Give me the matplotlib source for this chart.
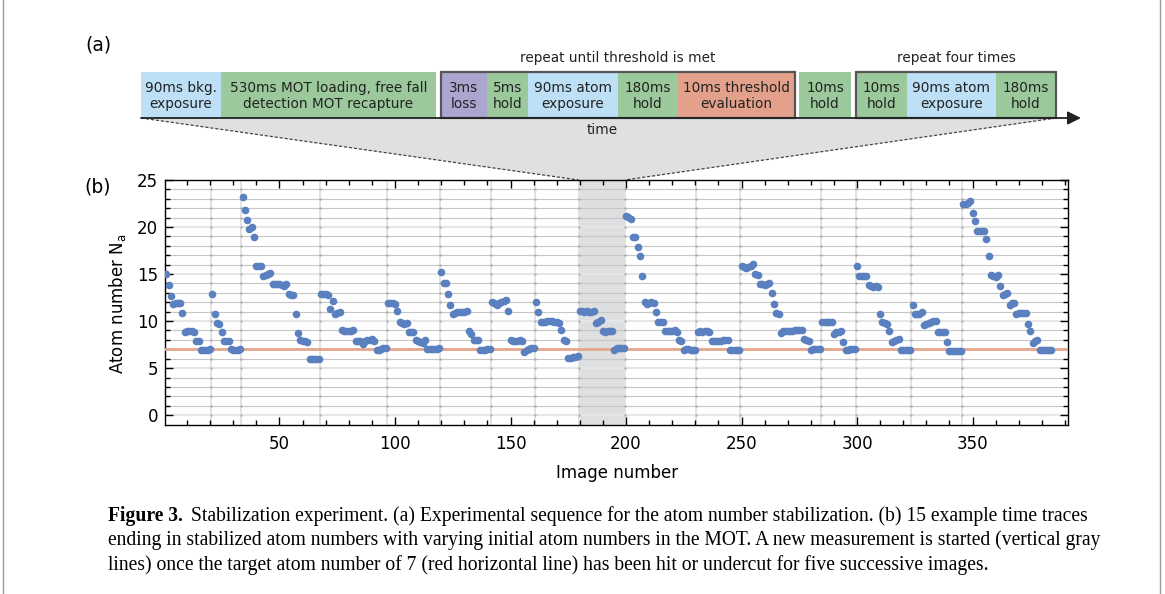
import matplotlib
matplotlib.use('Agg')
import matplotlib.pyplot as plt
import numpy as np
from matplotlib.patches import Rectangle, Polygon

plt.rcParams['font.family'] = ['DejaVu Sans']
plt.rcParams['mathtext.default'] = 'regular'

# ---------------- data: atom number per image, one list per time trace ----------------
trace01 = [15.0, 13.8, 12.7, 11.8, 11.9, 11.9, 11.9, 10.9, 8.8, 8.9, 8.9, 8.9, 8.8, 7.9, 7.9,
           6.9, 6.9, 6.9, 6.9, 7.0]
trace02 = [12.9, 10.8, 9.8, 9.7, 8.8, 7.9, 7.9, 7.9, 7.0, 6.95, 6.95, 6.95, 7.0]
trace03 = [23.2, 21.8, 20.8, 19.8, 20.0, 18.9, 15.9, 15.9, 15.9, 14.8, 14.9, 15.0, 15.1,
           13.9, 13.9, 13.9, 13.9, 13.8, 13.7, 13.95, 12.9, 12.8, 12.8, 10.8, 8.7,
           7.95, 7.9, 7.85, 7.8, 6.0, 6.0, 6.0, 6.0, 6.0]
trace04 = [12.9, 12.9, 12.85, 12.8, 11.3, 12.1, 10.8, 10.9, 11.0, 9.0, 8.9, 8.9, 8.9, 8.95, 9.1,
           7.9, 7.9, 7.9, 7.6, 7.9, 8.0, 8.0, 8.1, 7.9, 6.9, 6.95, 7.0, 7.1, 7.15]
trace05 = [11.9, 11.9, 11.95, 11.85, 11.05, 9.9, 9.8, 9.7, 9.8, 8.8, 8.8, 8.85,
           8.0, 7.9, 7.8, 7.7, 8.0, 7.05, 7.0, 7.0, 7.0, 7.05, 7.1]
trace06 = [15.25, 14.1, 14.05, 12.9, 11.75, 10.8, 10.9, 10.95, 11.0, 11.0, 11.0, 11.05,
           8.9, 8.6, 8.0, 8.0, 8.0, 6.95, 6.95, 6.95, 7.0, 7.0]
trace07 = [12.0, 11.9, 11.75, 11.9, 12.0, 12.1, 12.2, 11.05, 7.95, 7.9, 7.9, 7.9, 7.95, 7.87,
           6.7, 6.9, 7.05, 7.1, 7.1]
trace08 = [12.0, 10.95, 9.9, 9.95, 9.95, 10.0, 10.05, 10.0, 9.95, 9.85, 9.8, 9.0, 7.95, 7.9,
           6.05, 6.1, 6.15, 6.2, 6.25]
trace09 = [11.05, 11.05, 11.0, 11.05, 10.98, 10.95, 11.05, 9.8, 9.9, 10.1, 8.9, 8.85, 8.9,
           8.95, 8.95, 6.9, 7.1, 7.15, 7.1, 7.1]
trace10 = [21.2, 21.1, 20.9, 18.9, 18.9, 17.9, 16.9, 14.8, 12.0, 11.8, 11.9, 12.05, 11.9, 11.0,
           9.9, 9.95, 9.9, 8.9, 8.9, 8.95, 8.95, 9.0, 8.8, 8.0, 7.85,
           6.95, 7.0, 7.0, 6.95, 6.95, 6.95]
trace11 = [8.8, 8.9, 8.85, 8.95, 8.9, 8.8, 7.9, 7.85, 7.9, 7.9, 7.9, 7.95, 8.0, 8.0,
           6.9, 6.9, 6.95, 6.95, 6.95]
trace12 = [15.9, 15.75, 15.6, 15.75, 15.9, 16.05, 15.0, 14.95, 13.95, 13.9, 13.8, 13.9, 14.0,
           13.0, 11.85, 10.85, 10.8, 8.75, 8.9, 8.9, 8.9, 8.95, 8.95, 9.0, 9.0, 9.05, 9.05,
           8.05, 7.95, 7.9, 6.95, 7.0, 7.0, 7.0, 7.0]
trace13 = [9.9, 9.95, 9.95, 9.9, 9.85, 8.65, 8.8, 8.85, 8.9, 7.8, 6.95, 6.95, 7.0, 7.0, 7.05]
trace14 = [15.9, 14.8, 14.75, 14.75, 14.8, 13.85, 13.7, 13.6, 13.7, 13.65, 10.7, 9.9, 9.75,
           9.65, 8.9, 7.8, 7.9, 8.0, 8.05, 6.95, 6.95, 6.95, 6.95, 6.95]
trace15 = [11.75, 10.75, 10.75, 10.8, 11.0, 9.6, 9.7, 9.8, 9.9, 10.0, 10.05, 8.8, 8.85, 8.85,
           8.8, 7.8, 6.85, 6.85, 6.85, 6.85, 6.85, 6.85]
trace16 = [22.5, 22.4, 22.6, 22.8, 21.5, 20.6, 19.6, 19.6, 19.6, 19.6, 18.75, 16.9,
           14.9, 14.75, 14.7, 14.9, 13.7, 12.8, 12.9, 13.0, 11.75, 11.9, 11.95,
           10.8, 10.9, 10.9, 10.9, 10.9, 9.65, 8.95, 7.7, 7.85, 7.95,
           6.9, 6.9, 6.9, 6.9, 6.9, 6.9]
traces = [trace01, trace02, trace03, trace04, trace05, trace06, trace07, trace08,
          trace09, trace10, trace11, trace12, trace13, trace14, trace15, trace16]
highlighted_trace = 8          # index of the trace shown in gray (sequence zoom)
target_atom_number = 7

x_ticks = [50, 100, 150, 200, 250, 300, 350]
y_ticks = [0, 5, 10, 15, 20, 25]

# sequence diagram content
seq_labels = ["90ms bkg.\nexposure", "530ms MOT loading, free fall\ndetection MOT recapture",
              "3ms\nloss", "5ms\nhold", "90ms atom\nexposure", "180ms\nhold",
              "10ms threshold\nevaluation", "10ms\nhold",
              "10ms\nhold", "90ms atom\nexposure", "180ms\nhold"]
seq_kinds = ["exp", "hold", "loss", "hold", "exp", "hold", "eval", "hold", "hold", "exp", "hold"]
group_titles = ["repeat until threshold is met", "repeat four times"]

caption_bold = "Figure 3."
caption_lines = ["Stabilization experiment. (a) Experimental sequence for the atom number stabilization. (b) 15 example time traces",
                 "ending in stabilized atom numbers with varying initial atom numbers in the MOT. A new measurement is started (vertical gray",
                 "lines) once the target atom number of 7 (red horizontal line) has been hit or undercut for five successive images."]

# ---------------- layout / style ----------------
W, H = 1165, 594
kind_colors = {"exp": "#bee0f6", "hold": "#9bc99c", "loss": "#aaa6d0", "eval": "#e3a18b"}
box_edges = [[141, 221, 436], [441, 487, 528, 618, 678, 795], [799, 851], [856, 907, 996, 1056]]
box_top, box_bot = 72, 118
outlined_groups = [1, 3]
marker_color = "#5a80bf"
box_fs = 9.8

fig = plt.figure(figsize=(W / 100, H / 100), dpi=100)
ax0 = fig.add_axes([0, 0, 1, 1])
ax0.set_xlim(0, W)
ax0.set_ylim(H, 0)
ax0.axis('off')

ax = fig.add_axes([165 / W, 1 - 425 / H, 903 / W, 245 / H])

# ---- plot panel (b)
starts = np.cumsum([1] + [len(t) for t in traces[:-1]])
for s, t in zip(starts, traces):
    xs = np.arange(s, s + len(t))
    ax.plot(xs, t, 'o', ms=5.5, color=marker_color, mec='none', zorder=5)

x0 = starts[highlighted_trace] - 0.5
x1 = starts[highlighted_trace] + len(traces[highlighted_trace]) - 0.5
ax.axvspan(x0, x1, color='#dedfe0', zorder=0.5, lw=0)
grid_levels = np.arange(0, 25)
for s in starts[1:]:
    ax.axvline(s - 0.5, color='#e2e2e2', lw=1.4, zorder=1)
    ax.plot(np.full(len(grid_levels), s - 0.5), grid_levels, ls='none', marker='s', ms=1.6,
            mec='none', color='#a8a8a8', zorder=2)
for v in grid_levels:
    if v % 5 == 0:
        ax.axhline(v, color='#e6e6e6', lw=1.5, zorder=1.5)
    else:
        ax.axhline(v, color='#c6c6c6', lw=0.8, zorder=1.5)
ax.axhline(target_atom_number, color='#e6a68c', lw=2.0, zorder=3)

ax.set_xlim(0.45, 391.3)
ax.set_ylim(-1.05, 25)
ax.set_xticks(x_ticks)
ax.set_xticks(np.arange(10, 391, 10), minor=True)
ax.set_yticks(y_ticks)
ax.set_yticks(np.arange(0, 25, 1), minor=True)
ax.tick_params(which='both', direction='in', top=True, right=True, width=1, labelsize=12)
ax.tick_params(which='major', length=6)
ax.tick_params(which='minor', length=3.5)
ax.tick_params(axis='x', pad=7)
ax.tick_params(axis='y', pad=5)
for sp in ax.spines.values():
    sp.set_linewidth(1.0)

ax0.text(617, 473, "Image number", fontsize=12, ha='center', va='center')
ax0.text(118, 304, r"Atom number N$_{\mathrm{a}}$", fontsize=12, ha='center', va='center', rotation=90)
ax0.text(98, 45, "(a)", fontsize=13.5, ha='center', va='center')
ax0.text(98, 187, "(b)", fontsize=13.5, ha='center', va='center')

# ---- sequence panel (a)
fig.canvas.draw()
inv = ax0.transData.inverted()
pl = inv.transform(ax.transData.transform((x0, 25)))
pr = inv.transform(ax.transData.transform((x1, 25)))
left_x, right_x = box_edges[0][0], box_edges[-1][-1]
ax0.add_patch(Polygon([(left_x, box_bot), (right_x, box_bot), (pr[0], pr[1]), (pl[0], pl[1])],
                      closed=True, facecolor='#dfe0e2', edgecolor='none', zorder=1))
ax0.plot([left_x, pl[0]], [box_bot, pl[1]], color='#444444', lw=0.9, ls=(0, (2.5, 1.5)), zorder=2)
ax0.plot([right_x, pr[0]], [box_bot, pr[1]], color='#444444', lw=0.9, ls=(0, (2.5, 1.5)), zorder=2)

k = 0
for gi, edges in enumerate(box_edges):
    for a, b in zip(edges[:-1], edges[1:]):
        ax0.add_patch(Rectangle((a, box_top), b - a, box_bot - box_top,
                                facecolor=kind_colors[seq_kinds[k]], edgecolor='none', zorder=3))
        ax0.text((a + b) / 2, (box_top + box_bot) / 2 + 1, seq_labels[k], fontsize=box_fs,
                 ha='center', va='center', linespacing=1.2, color='#222222', zorder=5)
        k += 1
    if gi in outlined_groups:
        ax0.add_patch(Rectangle((edges[0], box_top), edges[-1] - edges[0], box_bot - box_top,
                                facecolor='none', edgecolor='#555555', lw=1.6, zorder=4))
for gi, title in zip(outlined_groups, group_titles):
    e = box_edges[gi]
    ax0.text((e[0] + e[-1]) / 2, 58, title, fontsize=box_fs, ha='center', va='center', color='#222222')
ax0.annotate('', xy=(1081, box_bot), xytext=(left_x, box_bot),
             arrowprops=dict(arrowstyle='-|>', color='#222222', lw=1.3, mutation_scale=20,
                             shrinkA=0, shrinkB=0), zorder=6)
ax0.text(602, 130, "time", fontsize=box_fs, ha='center', va='center', color='#222222')

# ---- caption
r = fig.canvas.get_renderer()
trial = ax0.text(0, 0, caption_lines[1], fontsize=12, family='Liberation Serif')
w = trial.get_window_extent(renderer=r).width
trial.remove()
fs = 12 * 990 / w
bl = [521, 545, 570]
tb = ax0.text(108, bl[0], caption_bold, fontsize=fs, family='Liberation Serif', weight='bold', va='baseline')
wb = tb.get_window_extent(renderer=r).width
ax0.text(108 + wb + 8, bl[0], caption_lines[0], fontsize=fs, family='Liberation Serif', va='baseline')
ax0.text(108, bl[1], caption_lines[1], fontsize=fs, family='Liberation Serif', va='baseline')
ax0.text(108, bl[2], caption_lines[2], fontsize=fs, family='Liberation Serif', va='baseline')

# figure frame
ax0.plot([3, 3], [0, H], color='#999999', lw=1)
ax0.plot([1160, 1160], [0, H], color='#999999', lw=1)

fig.savefig('out.png', dpi=100)
